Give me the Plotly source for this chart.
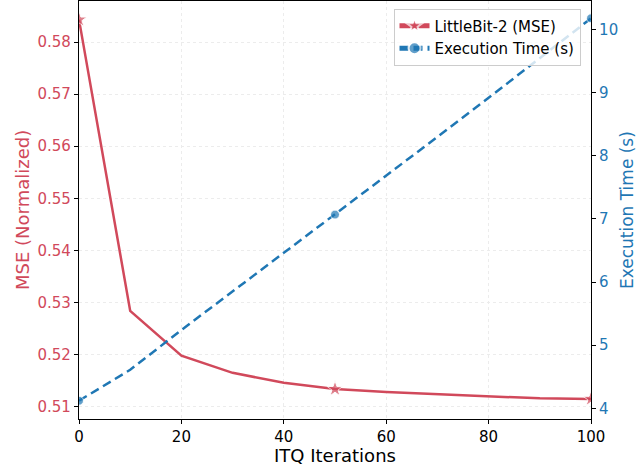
import plotly.graph_objects as go

iterations = [0, 10, 20, 30, 40, 50, 60, 70, 80, 90, 100]
mse_values = [0.5843, 0.5284, 0.5198, 0.5165, 0.5146, 0.5134, 0.5128, 0.5124, 0.5120, 0.5116, 0.5115]
exec_time = [4.12, 4.61, 5.24, 5.85, 6.46, 7.07, 7.68, 8.30, 8.92, 9.55, 10.18]
marked_iters = [0, 50, 100]
x_ticks = [0, 20, 40, 60, 80, 100]
left_ticks = [0.51, 0.52, 0.53, 0.54, 0.55, 0.56, 0.57, 0.58]
right_ticks = [4, 5, 6, 7, 8, 9, 10]

RED = "#d1495b"
BLUE = "#1f77b4"
FONT = "DejaVu Sans"

fig = go.Figure()
fig.add_trace(go.Scatter(
    x=iterations, y=mse_values, name="LittleBit-2 (MSE)",
    mode="lines+markers",
    line=dict(color=RED, width=2.5),
    marker=dict(symbol="star", color=RED,
                size=[12 if it in marked_iters else 0 for it in iterations]),
    yaxis="y",
))
fig.add_trace(go.Scatter(
    x=iterations, y=exec_time, name="Execution Time (s)",
    mode="lines+markers",
    line=dict(color=BLUE, width=2.5, dash="9px,5px"),
    marker=dict(symbol="circle", color=BLUE,
                size=[9 if it in marked_iters else 0 for it in iterations]),
    yaxis="y2",
))

axis_common = dict(
    showline=True, linecolor="black", linewidth=1.2,
    ticks="outside", ticklen=4, tickwidth=1, tickcolor="black",
    zeroline=False, automargin=False,
)

fig.update_layout(
    width=638, height=467,
    margin=dict(l=79, r=47, t=1, b=48),
    plot_bgcolor="white", paper_bgcolor="white",
    font=dict(family=FONT, size=15, color="black"),
    xaxis=dict(
        range=[0, 100], tickvals=x_ticks, mirror=True,
        showgrid=True, gridcolor="#ececec", griddash="dot", gridwidth=1,
        tickfont=dict(size=15),
        **axis_common,
    ),
    yaxis=dict(
        range=[0.50764, 0.58788], tickvals=left_ticks, tickformat=".2f",
        showgrid=True, gridcolor="#ececec", griddash="dot", gridwidth=1,
        tickfont=dict(size=15, color=RED),
        **axis_common,
    ),
    yaxis2=dict(
        range=[3.830, 10.455], tickvals=right_ticks, overlaying="y", side="right",
        showgrid=False,
        tickfont=dict(size=15, color=BLUE),
        **axis_common,
    ),
    legend=dict(
        x=0.9795, y=0.982, xanchor="right", yanchor="top",
        bgcolor="rgba(255,255,255,0.8)", bordercolor="#cccccc", borderwidth=1,
        font=dict(size=15), itemsizing="constant",
        tracegroupgap=0,
    ),
    showlegend=True,
    annotations=[
        dict(text="ITQ Iterations", xref="paper", yref="paper", x=0.5, y=-0.088,
             xanchor="center", yanchor="middle", showarrow=False,
             font=dict(size=18, color="black")),
        dict(text="MSE (Normalized)", xref="paper", yref="paper", x=-0.1114, y=0.5,
             xanchor="center", yanchor="middle", showarrow=False, textangle=-90,
             font=dict(size=18, color=RED)),
        dict(text="Execution Time (s)", xref="paper", yref="paper", x=1.0705, y=0.5,
             xanchor="center", yanchor="middle", showarrow=False, textangle=-90,
             font=dict(size=17, color=BLUE)),
    ],
)

fig.write_html(
    "out.html",
    config={"displayModeBar": False},
    post_script="document.body.style.margin='0';document.body.style.padding='0';",
)
